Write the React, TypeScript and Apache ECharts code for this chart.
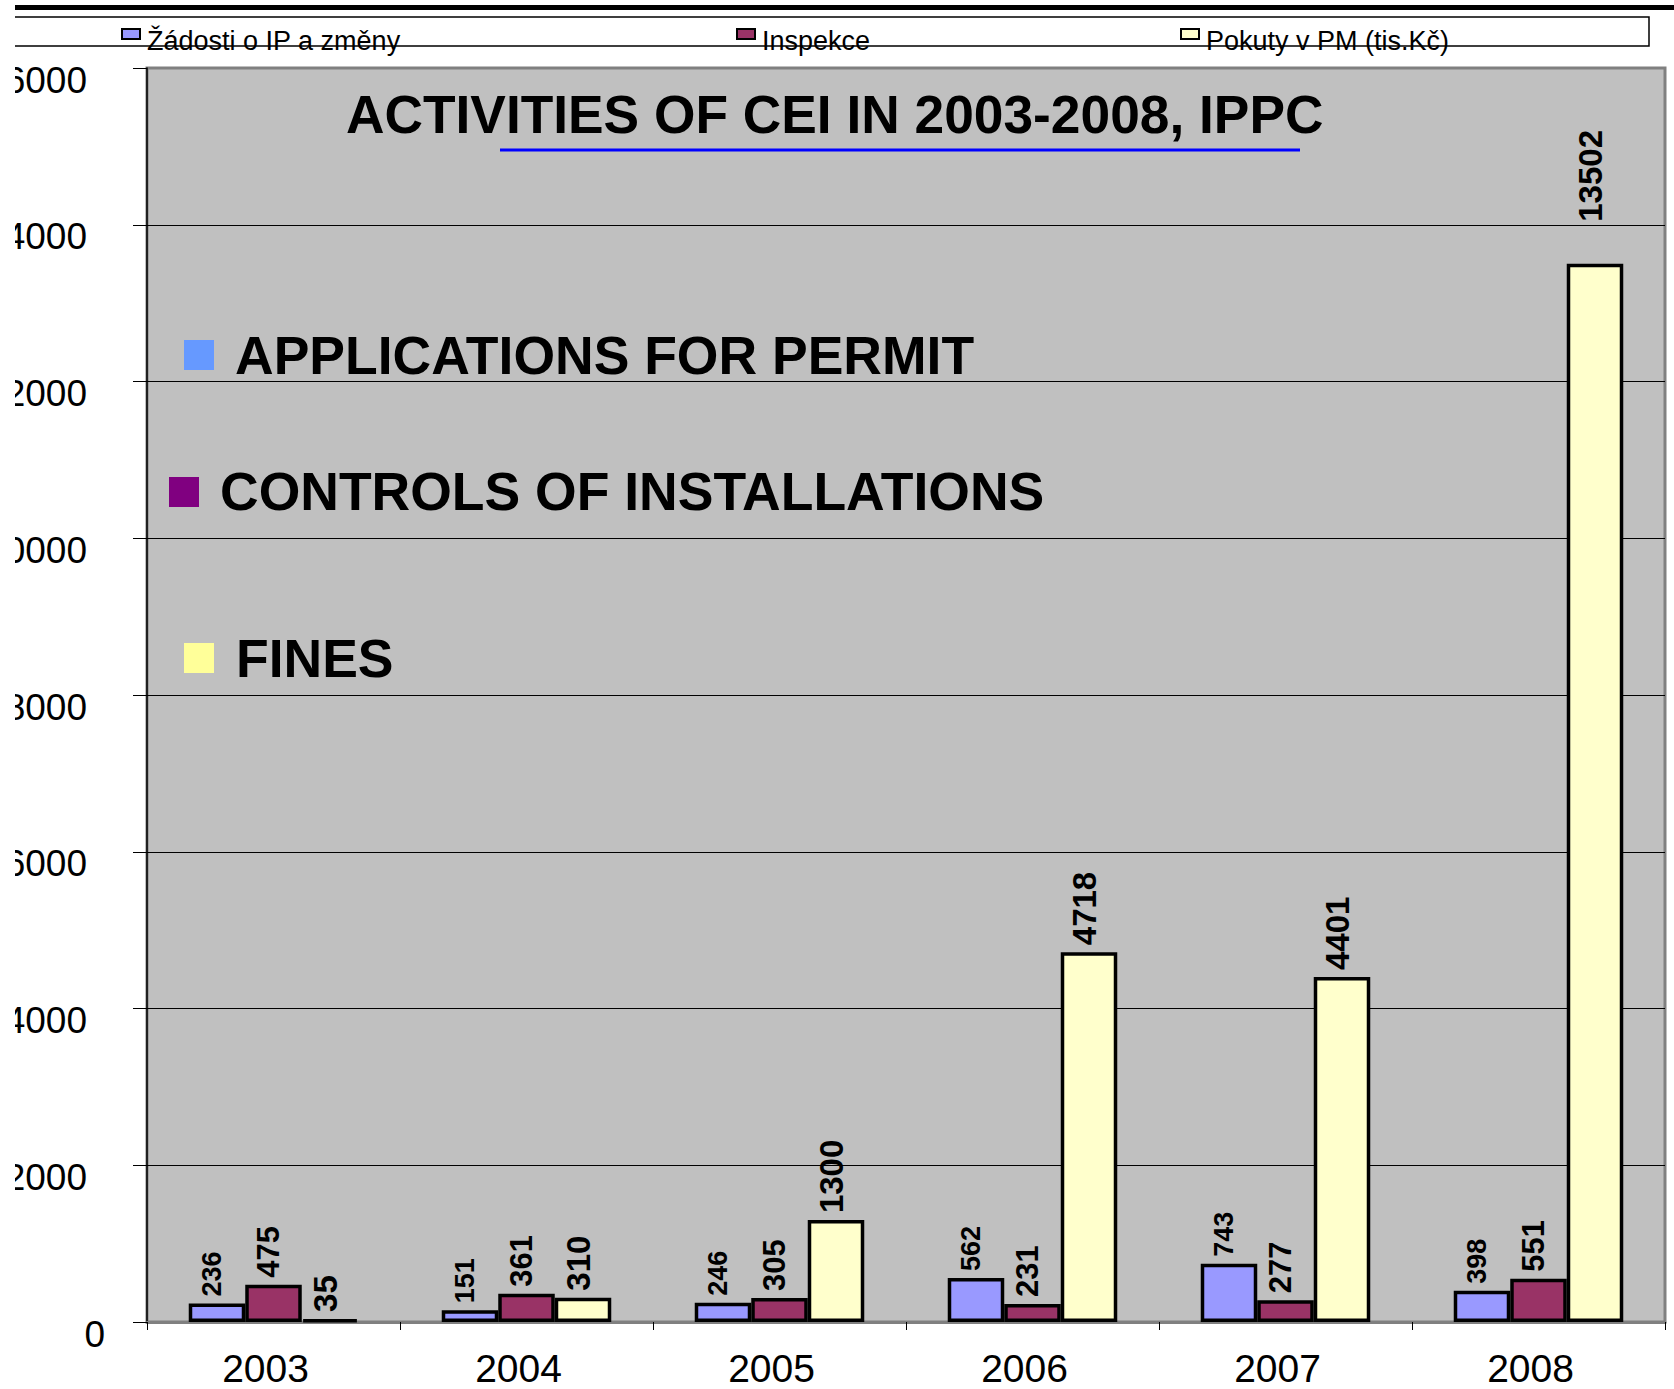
import React, { useEffect, useRef } from "react";
import * as echarts from "echarts";

const years = ["2003", "2004", "2005", "2006", "2007", "2008"];
const applications = [236, 151, 246, 562, 743, 398];
const inspections = [475, 361, 305, 231, 277, 551];
const fines = [35, 310, 1300, 4718, 4401, 13502];
const seriesNames = ["Žádosti o IP a změny", "Inspekce", "Pokuty v PM (tis.Kč)"];
const seriesColors = ["#9999ff", "#993366", "#ffffcc"];
const yMin = 0;
const yMax = 16000;
const yInterval = 2000;
const titleText = "ACTIVITIES OF CEI IN 2003-2008, IPPC";
const plotLegendTexts = ["APPLICATIONS FOR PERMIT", "CONTROLS OF INSTALLATIONS", "FINES"];
const plotLegendColors = ["#6699ff", "#800080", "#ffff99"];

const FONT = '"Liberation Sans", Arial, Helvetica, sans-serif';

function barLabel(size: number) {
  return {
    show: true,
    position: "top",
    rotate: 90,
    align: "left",
    verticalAlign: "middle",
    distance: 7,
    offset: [0, -5],
    fontSize: size,
    fontWeight: "bold",
    fontFamily: FONT,
    color: "#000",
  };
}

function buildOption() {
  const headerLegendX = [121, 736, 1180];
  const legends = seriesNames.map((n, i) => ({
    data: [n],
    left: headerLegendX[i],
    top: 27,
    orient: "horizontal",
    padding: 0,
    itemGap: 0,
    itemWidth: 18,
    itemHeight: 10,
    icon: "rect",
    selectedMode: false,
    itemStyle: { borderColor: "#000", borderWidth: 2 },
    formatter: (name: string) => `{a|${name}}`,
    textStyle: {
      fontSize: 27,
      fontFamily: FONT,
      color: "#000",
      rich: {
        a: {
          fontSize: 27,
          fontFamily: FONT,
          color: "#000",
          padding: [13, 0, 0, 2],
        },
      },
    },
  }));

  const plotLegendPos = [
    { mx: 184, my: 340, tx: 235, ty: 355 },
    { mx: 169, my: 477, tx: 220, ty: 491 },
    { mx: 184, my: 643, tx: 236, ty: 658 },
  ];

  const graphics: any[] = [
    { type: "rect", z: 10, shape: { x: 0, y: 5, width: 1674, height: 5 }, style: { fill: "#000" } },
    {
      type: "rect",
      z: 10,
      shape: { x: 0, y: 17, width: 1649, height: 29 },
      style: { fill: "none", stroke: "#000", lineWidth: 1.5 },
    },
    {
      type: "text",
      z: 10,
      x: 346,
      y: 114,
      style: {
        text: titleText,
        font: `bold 53.3px ${FONT}`,
        fill: "#000",
        align: "left",
        verticalAlign: "middle",
      },
    },
    {
      type: "line",
      z: 10,
      shape: { x1: 500, y1: 150, x2: 1300, y2: 150 },
      style: { stroke: "#0000ff", lineWidth: 3 },
    },
  ];
  plotLegendTexts.forEach((t, i) => {
    const p = plotLegendPos[i];
    graphics.push({
      type: "rect",
      z: 10,
      shape: { x: p.mx, y: p.my, width: 30, height: 30 },
      style: { fill: plotLegendColors[i] },
    });
    graphics.push({
      type: "text",
      z: 10,
      x: p.tx,
      y: p.ty,
      style: {
        text: t,
        font: `bold 53.5px ${FONT}`,
        fill: "#000",
        align: "left",
        verticalAlign: "middle",
      },
    });
  });

  const finesData = fines.map((v, i) =>
    i === fines.length - 1 ? { value: v, label: { distance: 42 } } : v
  );

  return {
    animation: false,
    grid: {
      left: 147,
      right: 9,
      top: 68,
      bottom: 67,
      containLabel: false,
      outerBoundsMode: "none",
      show: true,
      backgroundColor: "#c0c0c0",
      borderColor: "#808080",
      borderWidth: 3,
    },
    legend: legends,
    xAxis: {
      type: "category",
      data: years,
      axisLine: { show: true, lineStyle: { color: "#808080", width: 3 } },
      axisTick: { show: true, length: 8, lineStyle: { color: "#000", width: 1 } },
      axisLabel: {
        fontSize: 39,
        fontFamily: FONT,
        color: "#000",
        margin: 27,
        padding: [0, 16, 0, 0],
      },
      splitLine: { show: false },
    },
    yAxis: {
      type: "value",
      min: yMin,
      max: yMax,
      interval: yInterval,
      axisLine: { show: true, lineStyle: { color: "#000", width: 1.5 } },
      axisTick: { show: true, length: 14, lineStyle: { color: "#000", width: 1 } },
      splitLine: {
        show: true,
        showMinLine: false,
        showMaxLine: false,
        lineStyle: { color: "#000", width: 1 },
      },
      axisLabel: {
        margin: 42,
        color: "#000",
        fontSize: 37,
        fontFamily: FONT,
        padding: [24, 0, 0, 0],
        formatter: (v: number) => (v === 0 ? "{z|0}" : `{n|${v}}`),
        rich: {
          n: { fontSize: 37, fontFamily: FONT, color: "#000", padding: [0, 18, 0, 0] },
          z: { fontSize: 37, fontFamily: FONT, color: "#000" },
        },
      },
    },
    graphic: graphics,
    series: [
      {
        name: seriesNames[0],
        type: "bar",
        data: applications,
        barGap: "0%",
        barCategoryGap: "33%",
        itemStyle: { color: seriesColors[0], borderColor: "#000", borderWidth: 3.5 },
        label: barLabel(27),
      },
      {
        name: seriesNames[1],
        type: "bar",
        data: inspections,
        barGap: "0%",
        barCategoryGap: "33%",
        itemStyle: { color: seriesColors[1], borderColor: "#000", borderWidth: 3.5 },
        label: barLabel(31),
      },
      {
        name: seriesNames[2],
        type: "bar",
        data: finesData,
        barGap: "0%",
        barCategoryGap: "33%",
        itemStyle: { color: seriesColors[2], borderColor: "#000", borderWidth: 3.5 },
        label: barLabel(33),
      },
    ],
  };
}

export default function App() {
  const ref = useRef<HTMLDivElement>(null);
  useEffect(() => {
    if (!ref.current) return;
    const chart = echarts.init(ref.current, null, { renderer: "svg" });
    chart.setOption(buildOption() as any);
    return () => chart.dispose();
  }, []);
  return (
    <div
      style={{
        position: "absolute",
        left: 0,
        top: 0,
        width: 1674,
        height: 1389,
        background: "#fff",
        overflow: "hidden",
      }}
    >
      <div
        style={{
          position: "absolute",
          left: 15,
          top: 0,
          width: 1659,
          height: 1389,
          overflow: "hidden",
        }}
      >
        <div
          ref={ref}
          style={{ position: "absolute", left: -15, top: 0, width: 1674, height: 1389 }}
        />
      </div>
    </div>
  );
}
